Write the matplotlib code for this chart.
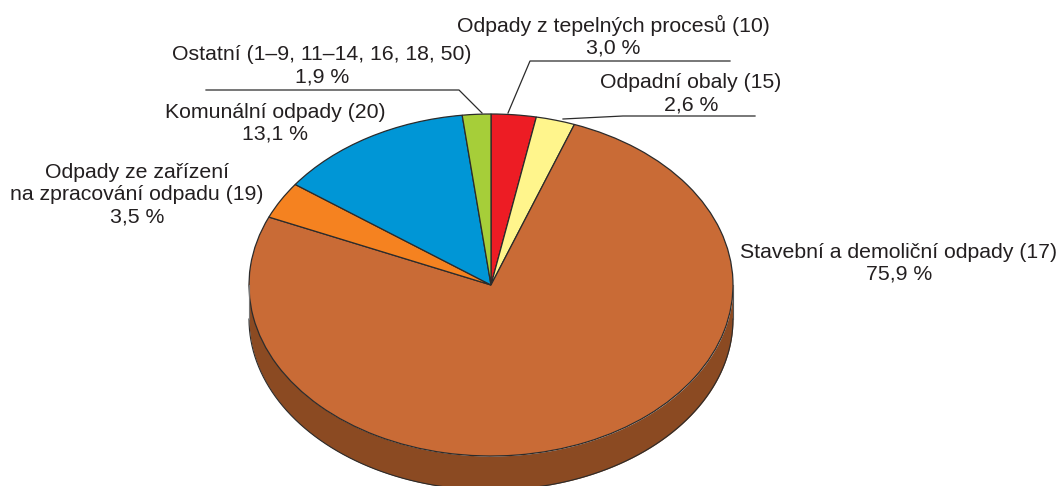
#!/usr/bin/env python3
import numpy as np
import matplotlib
matplotlib.use('Agg')
import matplotlib.pyplot as plt
from matplotlib.lines import Line2D

plt.rcParams['font.family'] = ['Liberation Sans', 'DejaVu Sans']

shares = [3.0, 2.6, 75.9, 3.5, 13.1, 1.9]
colours = ['#ed1c24', '#fff58c', '#c96b36', '#f58220', '#0096d6', '#a6ce39']
names = ['Odpady z tepelných procesů (10)\n3,0 %',
         'Odpadní obaly (15)\n2,6 %',
         'Stavební a demoliční odpady (17)\n75,9 %',
         'Odpady ze zařízení\nna zpracování odpadu (19)\n3,5 %',
         'Komunální odpady (20)\n13,1 %',
         'Ostatní (1–9, 11–14, 16, 18, 50)\n1,9 %']

W, H = 1061, 486
cx, cy, rx, ry, depth = 491, 285, 242, 171, 34
edge = '#2b2b2b'
text_col = '#231f20'

fig = plt.figure(figsize=(W / 100, H / 100), dpi=100)
ax = fig.add_axes([0, 0, 1, 1])

# side of the disc first, the top goes over it
t = np.linspace(np.pi, 2 * np.pi, 300)
xs = np.cos(t)
ytop = np.sin(t)
ybot = ytop - depth / ry
ax.fill_between(xs, ybot, ytop, color='#8b4a22', lw=0)
ax.plot(xs, ybot, color=edge, lw=0.8)
ax.plot([-1, -1], [0, -depth / ry], color='#777777', lw=0.8)
ax.plot([1, 1], [0, -depth / ry], color='#555555', lw=0.8)

ax.pie(shares, colors=colours, startangle=90, counterclock=False, radius=1,
       wedgeprops={'edgecolor': edge, 'linewidth': 0.9})

# pie forces equal aspect, squash it to the ellipse
ax.set_aspect('auto')
ax.set_xlim(-cx / rx, (W - cx) / rx)
ax.set_ylim((cy - H) / ry, cy / ry)
ax.axis('off')


def px_text(x, y, s):
    fig.text(x / W, 1 - y / H, s, ha='center', va='center', fontsize=15.3,
             color=text_col, linespacing=1.2)


def px_line(xv, yv):
    fig.add_artist(Line2D([v / W for v in xv], [1 - v / H for v in yv],
                          color=edge, lw=0.9))


px_text(613, 36, names[0])
px_text(691, 94, names[1])
px_text(899, 263, names[2])
px_text(137, 195, names[3])
px_text(275, 123, names[4])
px_text(322, 66, names[5])

px_line([206, 459, 482], [90, 90, 113])
px_line([508, 530, 730], [113, 61, 61])
px_line([563, 623, 755], [119, 116, 116])

fig.savefig('out.png', dpi=100)
